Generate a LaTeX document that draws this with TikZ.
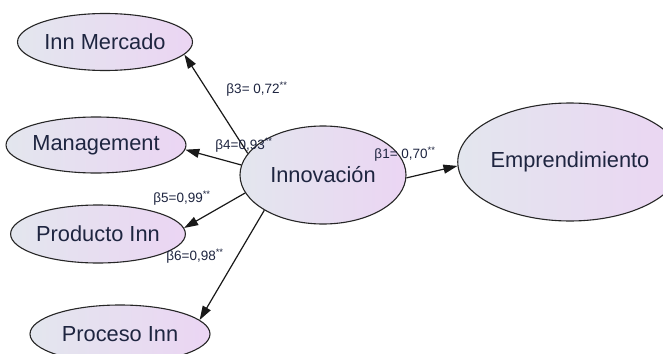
\documentclass[tikz,border=0pt]{standalone}
\usepackage{fontspec}
\setmainfont{Liberation Sans}
\usetikzlibrary{shapes.geometric,arrows.meta}
\definecolor{lc}{HTML}{E3E6EE}
\definecolor{rc}{HTML}{EBD5F3}
\definecolor{tc}{HTML}{1E2540}
\begin{document}
\begin{tikzpicture}[x=1pt,y=-1pt,
  lat/.style={ellipse,draw=black!85,line width=1.1pt,left color=lc,right color=rc,inner sep=0pt,text=tc,font=\fontsize{21.8}{24}\selectfont},
  arr/.style={line width=1.2pt,draw=black!90,-{Triangle[length=14pt,width=9pt]}},
  lab/.style={font=\fontsize{13.5}{15}\selectfont,text=tc,inner sep=0pt}]
\useasboundingbox (0,0) rectangle (663,353);
\clip (0,0) rectangle (663,353);
\fill[white] (0,0) rectangle (663,353);
\node[lat,minimum width=175pt,minimum height=57pt] (merc) at (105,42) {Inn Mercado};
\node[lat,minimum width=176pt,minimum height=56pt] (mgmt) at (96,145) {Management};
\node[lat,minimum width=174pt,minimum height=58pt] (prod) at (98,234) {Producto Inn};
\node[lat,minimum width=180pt,minimum height=58pt] (proc) at (120,334) {Proceso Inn};
\node[lat,minimum width=166pt,minimum height=98pt] (inn) at (323,175) {Innovación};
\node[lat,minimum width=196pt,minimum height=118pt] (emp) at (570,162) {Emprendimiento};
\draw[arr] (inn.164) -- (merc.-9);
\draw[arr] (inn.173) -- (mgmt.-3);
\draw[arr] (inn.193) -- (prod.4);
\draw[arr] (inn.211) -- (proc.10);
\draw[arr] (inn.-2) -- (emp.182);
\node[lab] (b3) at (257,89) {β3= 0,72\textsuperscript{**}};
\node[lab] (b4) at (244,145) {β4=0,93\textsuperscript{**}};
\node[lab] (b5) at (182,198) {β5=0,99\textsuperscript{**}};
\node[lab] (b6) at (195,256) {β6=0,98\textsuperscript{**}};
\node[lab] (b1) at (405,154) {β1= 0,70\textsuperscript{**}};
\end{tikzpicture}
\end{document}
